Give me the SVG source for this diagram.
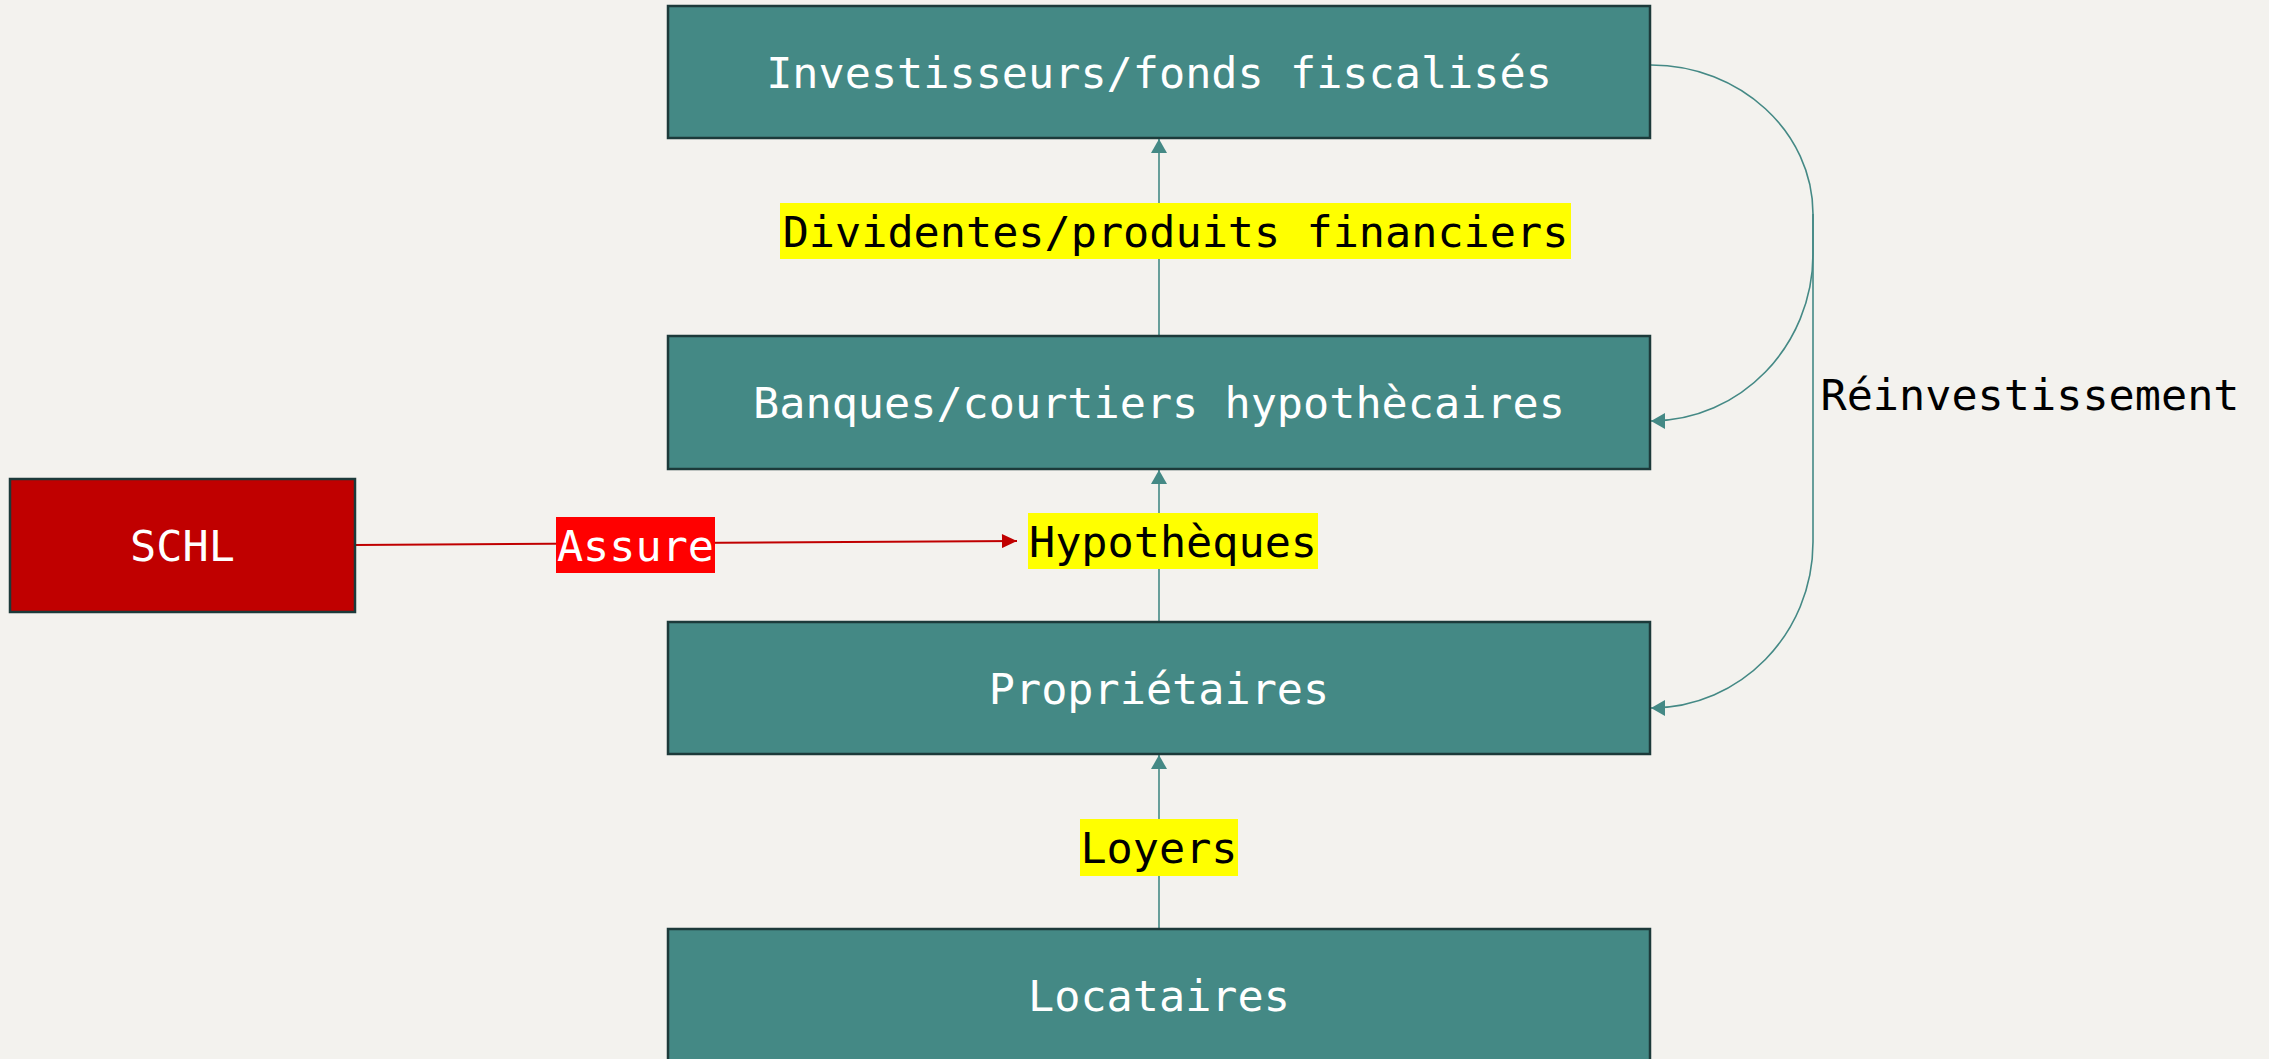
<svg xmlns="http://www.w3.org/2000/svg" width="2269" height="1059" viewBox="0 0 2269 1059">
<defs>
<style>
.node{fill:#448985;stroke:#1c3a3a;stroke-width:2.5}
.red{fill:#c00000;stroke:#1c3a3a;stroke-width:2.5}
.nt{font-family:"DejaVu Sans Mono",monospace;font-size:43.5px;fill:#ffffff;text-anchor:middle}
.lt{font-family:"DejaVu Sans Mono",monospace;font-size:43.5px;fill:#000000;text-anchor:middle}
.edge{fill:none;stroke:#448985;stroke-width:1.6}
.redge{fill:none;stroke:#c00000;stroke-width:2}
.ybg{fill:#ffff00}
.rbg{fill:#ff0000}
</style>
<marker id="ah" markerUnits="userSpaceOnUse" markerWidth="16" markerHeight="16" viewBox="0 0 14 16" refX="14" refY="8" orient="auto">
<path d="M0,0 L14,8 L0,16 Z" fill="#448985"/>
</marker>
<marker id="ahr" markerUnits="userSpaceOnUse" markerWidth="16" markerHeight="14" viewBox="0 0 15 14" refX="15" refY="7" orient="auto">
<path d="M0,0 L15,7 L0,14 Z" fill="#c00000"/>
</marker>
</defs>
<rect width="2269" height="1059" fill="#f3f2ee"/>
<g id="connectors">
<path class="edge" d="M1159,336 L1159,139" marker-end="url(#ah)"/>
<path class="edge" d="M1159,622 L1159,470" marker-end="url(#ah)"/>
<path class="edge" d="M1159,929 L1159,755" marker-end="url(#ah)"/>
<path class="redge" d="M355,545 L1017,541" marker-end="url(#ahr)"/>
<path class="edge" d="M1651,65 C1740,65 1813,132 1813,214"/>
<path class="edge" d="M1813,214 L1813,254 C1813,346 1740,421 1651,421" marker-end="url(#ah)"/>
<path class="edge" d="M1813,214 L1813,542 C1813,634 1740,708 1651,708" marker-end="url(#ah)"/>
<g id="label-dividendes">
<rect class="ybg" x="780" y="203" width="791" height="56"/>
<text class="lt" x="1175.5" y="247">Dividentes/produits financiers</text>
</g>
<g id="label-hypotheques">
<rect class="ybg" x="1028" y="513" width="290" height="56"/>
<text class="lt" x="1173" y="557">Hypothèques</text>
</g>
<g id="label-loyers">
<rect class="ybg" x="1080" y="819" width="158" height="57"/>
<text class="lt" x="1159" y="863">Loyers</text>
</g>
<g id="label-assure">
<rect class="rbg" x="556" y="517" width="159" height="56"/>
<text class="nt" x="635.5" y="561">Assure</text>
</g>
<g id="label-reinvest">
<text class="lt" x="2030" y="410">Réinvestissement</text>
</g>
</g>
<g id="investisseurs">
<rect class="node" x="668" y="6" width="982" height="132"/>
<text class="nt" x="1159" y="88">Investisseurs/fonds fiscalisés</text>
</g>
<g id="banques">
<rect class="node" x="668" y="336" width="982" height="133"/>
<text class="nt" x="1159" y="418">Banques/courtiers hypothècaires</text>
</g>
<g id="proprietaires">
<rect class="node" x="668" y="622" width="982" height="132"/>
<text class="nt" x="1159" y="704">Propriétaires</text>
</g>
<g id="locataires">
<rect class="node" x="668" y="929" width="982" height="133"/>
<text class="nt" x="1159" y="1011">Locataires</text>
</g>
<g id="schl">
<rect class="red" x="10" y="479" width="345" height="133"/>
<text class="nt" x="182.5" y="561">SCHL</text>
</g>
</svg>
